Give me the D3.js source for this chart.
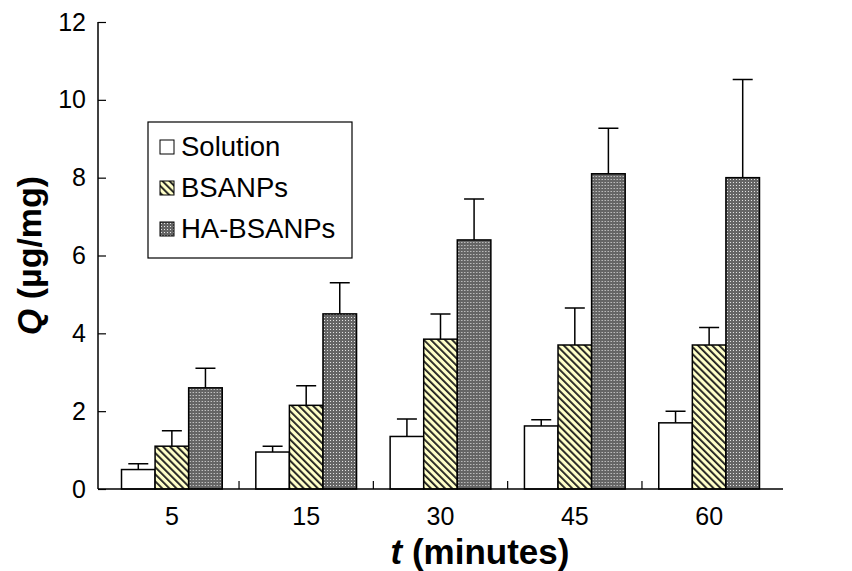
<!DOCTYPE html>
<html>
<head>
<meta charset="utf-8">
<script src="https://cdn.jsdelivr.net/npm/d3@7"></script>
<style>
  body { margin: 0; background: #fff; }
  svg { font-family: "Liberation Sans", Arial, sans-serif; }
</style>
</head>
<body>
<div id="vis-container"></div>
<script>
var times = ["5", "15", "30", "45", "60"];
var series = ["Solution", "BSANPs", "HA-BSANPs"];

// mean Q values (µg/mg) and upper error (SD) per time point
var solution    = [0.50, 0.95, 1.35, 1.62, 1.70];
var solutionErr = [0.15, 0.15, 0.45, 0.16, 0.30];
var bsanps      = [1.10, 2.15, 3.85, 3.70, 3.70];
var bsanpsErr   = [0.40, 0.50, 0.65, 0.95, 0.45];
var habsanps    = [2.60, 4.50, 6.40, 8.10, 8.00];
var habsanpsErr = [0.50, 0.80, 1.05, 1.17, 2.52];

var yTicks = [0, 2, 4, 6, 8, 10, 12];

var margin = { top: 22, right: 69, bottom: 82, left: 98 };
var width  = 852 - margin.left - margin.right;
var height = 571 - margin.top  - margin.bottom;

var svg = d3.select("#vis-container")
    .append("svg")
      .attr("width", 852)
      .attr("height", 571);

// fill patterns
var defs = svg.append("defs");

var hatch = defs.append("pattern")
    .attr("id", "hatch")
    .attr("patternUnits", "userSpaceOnUse")
    .attr("width", 5)
    .attr("height", 5)
    .attr("patternTransform", "rotate(-45)");
hatch.append("rect").attr("width", 5).attr("height", 5).attr("fill", "#ffffc8");
hatch.append("rect").attr("width", 1.8).attr("height", 5).attr("fill", "#1a1a1a");

var dots = defs.append("pattern")
    .attr("id", "dots")
    .attr("patternUnits", "userSpaceOnUse")
    .attr("width", 3)
    .attr("height", 3);
dots.append("rect").attr("width", 3).attr("height", 3).attr("fill", "#656565");
dots.append("rect").attr("x", 1).attr("y", 1).attr("width", 1).attr("height", 1).attr("fill", "#e6e6e6");

var fills = { "Solution": "#fff", "BSANPs": "url(#hatch)", "HA-BSANPs": "url(#dots)" };

var rows = times.map(function(t, i) {
    return {
        time: t,
        bars: [
            { key: "Solution",  value: solution[i], err: solutionErr[i] },
            { key: "BSANPs",    value: bsanps[i],   err: bsanpsErr[i] },
            { key: "HA-BSANPs", value: habsanps[i], err: habsanpsErr[i] }
        ]
    };
});

var g = svg.append("g")
    .attr("transform", "translate(" + margin.left + "," + margin.top + ")");

var xScale = d3.scaleBand()
    .domain(times)
    .range([0, width])
    .paddingInner(0)
    .paddingOuter(0.05);

var groupW = xScale.bandwidth() * 0.75;
var xInner = d3.scaleBand()
    .domain(series)
    .range([(xScale.bandwidth() - groupW) / 2, (xScale.bandwidth() + groupW) / 2]);

var yScale = d3.scaleLinear()
    .domain([0, 12])
    .range([height, 0]);

// bars
var groups = g.selectAll(".grp")
    .data(rows)
    .enter().append("g")
      .attr("class", "grp")
      .attr("transform", function(d) { return "translate(" + xScale(d.time) + ",0)"; });

groups.selectAll(".err")
    .data(function(d) { return d.bars; })
    .enter().append("path")
      .attr("class", "err")
      .attr("fill", "none")
      .attr("stroke", "#000")
      .attr("stroke-width", 1.5)
      .attr("d", function(d) {
          var cx = xInner(d.key) + xInner.bandwidth() / 2;
          var y0 = yScale(d.value), y1 = yScale(d.value + d.err);
          return "M" + cx + "," + y0 + "V" + y1 + "M" + (cx - 10) + "," + y1 + "H" + (cx + 10);
      });

groups.selectAll(".bar")
    .data(function(d) { return d.bars; })
    .enter().append("rect")
      .attr("class", "bar")
      .attr("x", function(d) { return xInner(d.key); })
      .attr("width", xInner.bandwidth())
      .attr("y", function(d) { return yScale(d.value); })
      .attr("height", function(d) { return height - yScale(d.value); })
      .attr("fill", function(d) { return fills[d.key]; })
      .attr("stroke", "#000")
      .attr("stroke-width", 1.5);

// axes
var yAxis = d3.axisRight(yScale)
    .tickValues(yTicks)
    .tickSize(8)
    .tickFormat(d3.format("d"));

var yG = g.append("g").call(yAxis);
yG.select(".domain").attr("d", "M0," + height + "V0").attr("stroke-width", 1.5);
yG.selectAll(".tick line").attr("stroke-width", 1.2);
yG.selectAll(".tick text")
    .attr("x", -12)
    .attr("text-anchor", "end")
    .attr("font-size", 25)
    .attr("fill", "#000");

var xG = g.append("g")
    .attr("transform", "translate(0," + height + ")")
    .call(d3.axisBottom(xScale).tickSize(0).tickPadding(18));
xG.select(".domain").attr("d", "M0,0H" + width).attr("stroke-width", 1.5);
xG.selectAll(".tick text").attr("font-size", 25).attr("fill", "#000");

// separator ticks between groups
xG.selectAll(".sep")
    .data(times.slice(1))
    .enter().append("line")
      .attr("class", "sep")
      .attr("x1", function(d) { return xScale(d); })
      .attr("x2", function(d) { return xScale(d); })
      .attr("y1", 0)
      .attr("y2", -8)
      .attr("stroke", "#000")
      .attr("stroke-width", 1.2);

// axis titles
var xt = svg.append("text")
    .attr("x", 480)
    .attr("y", 564)
    .attr("text-anchor", "middle")
    .attr("font-size", 35)
    .attr("font-weight", "bold");
xt.append("tspan").attr("font-style", "italic").text("t");
xt.append("tspan").text(" (minutes)");

var yt = svg.append("text")
    .attr("transform", "translate(41," + (margin.top + height / 2) + ") rotate(-90)")
    .attr("text-anchor", "middle")
    .attr("font-size", 34)
    .attr("font-weight", "bold");
yt.append("tspan").attr("font-style", "italic").text("Q");
yt.append("tspan").text(" (µg/mg)");

// legend
var legend = svg.append("g")
    .attr("transform", "translate(148,122)");
legend.append("rect")
    .attr("width", 204)
    .attr("height", 136)
    .attr("fill", "#fff")
    .attr("stroke", "#000")
    .attr("stroke-width", 1.2);

var items = legend.selectAll(".item")
    .data(series)
    .enter().append("g")
      .attr("class", "item")
      .attr("transform", function(d, i) { return "translate(12," + (24 + i * 41) + ")"; });

items.append("rect")
    .attr("y", -6)
    .attr("width", 14)
    .attr("height", 14)
    .attr("fill", function(d) { return fills[d]; })
    .attr("stroke", "#000")
    .attr("stroke-width", 1);

items.append("text")
    .attr("x", 21)
    .attr("y", 10)
    .attr("font-size", 27.5)
    .text(function(d) { return d; });
</script>
</body>
</html>
